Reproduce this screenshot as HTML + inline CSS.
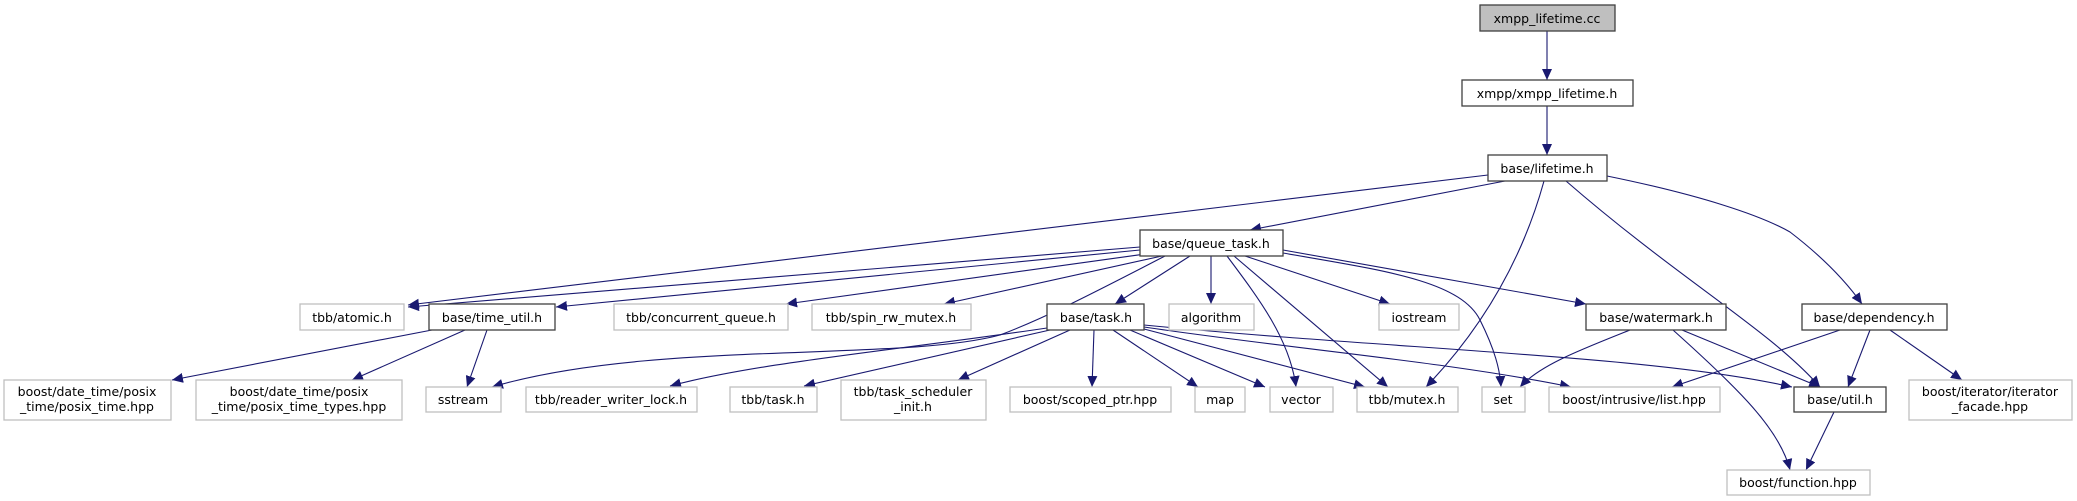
<!DOCTYPE html>
<html><head><meta charset="utf-8"><style>
html,body{margin:0;padding:0;background:#fff;}
svg{display:block;}
text{font-family:"DejaVu Sans","Liberation Sans",sans-serif;font-size:12.5px;fill:#000;text-anchor:middle;}
.g{fill:#fff;stroke:#bfbfbf;stroke-width:1.3;}
.b{fill:#fff;stroke:#404040;stroke-width:1.3;}
.e{fill:none;stroke:#191970;stroke-width:1.1;marker-end:url(#a);}
</style></head><body>
<svg width="2077" height="501" viewBox="0 0 2077 501" xmlns="http://www.w3.org/2000/svg">
<defs><marker id="a" markerUnits="userSpaceOnUse" markerWidth="12" markerHeight="10" refX="11" refY="5" orient="auto"><path d="M0,0 L11,5 L0,10 z" fill="#191970"/></marker></defs>
<!-- edges -->
<path class="e" d="M1547,31 L1547,80"/>
<path class="e" d="M1547,106 L1547,155"/>
<path class="e" d="M1505,181 L1250,230"/>
<path class="e" d="M1488,175 L408,305"/>
<path class="e" d="M1544,181 C1525,250 1490,320 1426,387"/>
<path class="e" d="M1566,181 C1680,280 1770,330 1820,387"/>
<path class="e" d="M1607,176 C1700,195 1760,215 1790,232 C1820,255 1845,280 1862,304"/>
<path class="e" d="M1140,247 L408,307"/>
<path class="e" d="M1140,250 L556,307"/>
<path class="e" d="M1145,254 L786,304"/>
<path class="e" d="M1162,256 L944,304"/>
<path class="e" d="M1190,256 L1115,304"/>
<path class="e" d="M1211,256 L1211,304"/>
<path class="e" d="M1245,256 L1390,304"/>
<path class="e" d="M1283,250 L1586,304"/>
<path class="e" d="M1165,256 C1080,300 1040,320 1000,335 C900,362 650,340 492,387"/>
<path class="e" d="M1227,256 C1260,300 1290,340 1296,387"/>
<path class="e" d="M1234,256 L1388,387"/>
<path class="e" d="M1283,253 C1380,270 1460,280 1480,320 C1495,350 1500,370 1501,387"/>
<path class="e" d="M432,330 L172,380"/>
<path class="e" d="M465,330 L352,380"/>
<path class="e" d="M487,330 L467,387"/>
<path class="e" d="M1047,328 C900,350 760,362 670,386"/>
<path class="e" d="M1050,330 L804,386"/>
<path class="e" d="M1070,330 L958,380"/>
<path class="e" d="M1094,330 L1092,387"/>
<path class="e" d="M1113,330 L1198,387"/>
<path class="e" d="M1130,330 L1265,387"/>
<path class="e" d="M1144,329 L1365,387"/>
<path class="e" d="M1144,327 C1300,350 1450,362 1571,387"/>
<path class="e" d="M1144,325 C1400,350 1650,355 1792,387"/>
<path class="e" d="M1630,330 C1580,350 1540,365 1520,387"/>
<path class="e" d="M1682,330 L1820,387"/>
<path class="e" d="M1673,330 C1740,390 1780,430 1790,470"/>
<path class="e" d="M1840,330 L1672,387"/>
<path class="e" d="M1870,330 L1848,387"/>
<path class="e" d="M1890,330 L1962,380"/>
<path class="e" d="M1834,412 L1806,470"/>
<!-- nodes -->
<rect x="1480" y="5" width="135" height="26" fill="#bfbfbf" stroke="#404040" stroke-width="1.3"/><text x="1547" y="23">xmpp_lifetime.cc</text>
<rect class="b" x="1462" y="80" width="171" height="26"/><text x="1547" y="98">xmpp/xmpp_lifetime.h</text>
<rect class="b" x="1488" y="155" width="119" height="26"/><text x="1547" y="173">base/lifetime.h</text>
<rect class="b" x="1140" y="230" width="143" height="26"/><text x="1211" y="248">base/queue_task.h</text>

<rect class="g" x="300" y="304" width="104" height="26"/><text x="352" y="322">tbb/atomic.h</text>
<rect class="b" x="429" y="304" width="126" height="26"/><text x="492" y="322">base/time_util.h</text>
<rect class="g" x="614" y="304" width="174" height="26"/><text x="701" y="322">tbb/concurrent_queue.h</text>
<rect class="g" x="812" y="304" width="159" height="26"/><text x="891" y="322">tbb/spin_rw_mutex.h</text>
<rect class="b" x="1047" y="304" width="97" height="26"/><text x="1096" y="322">base/task.h</text>
<rect class="g" x="1169" y="304" width="85" height="26"/><text x="1211" y="322">algorithm</text>
<rect class="g" x="1379" y="304" width="80" height="26"/><text x="1419" y="322">iostream</text>
<rect class="b" x="1586" y="304" width="140" height="26"/><text x="1656" y="322">base/watermark.h</text>
<rect class="b" x="1802" y="304" width="145" height="26"/><text x="1874" y="322">base/dependency.h</text>

<rect class="g" x="4" y="380" width="167" height="40"/><text x="87" y="396">boost/date_time/posix</text><text x="87" y="411">_time/posix_time.hpp</text>
<rect class="g" x="196" y="380" width="206" height="40"/><text x="299" y="396">boost/date_time/posix</text><text x="299" y="411">_time/posix_time_types.hpp</text>
<rect class="g" x="426" y="387" width="75" height="25"/><text x="463" y="404">sstream</text>
<rect class="g" x="526" y="387" width="171" height="25"/><text x="611" y="404">tbb/reader_writer_lock.h</text>
<rect class="g" x="730" y="387" width="87" height="25"/><text x="773" y="404">tbb/task.h</text>
<rect class="g" x="841" y="380" width="145" height="40"/><text x="913" y="396">tbb/task_scheduler</text><text x="913" y="411">_init.h</text>
<rect class="g" x="1010" y="387" width="161" height="25"/><text x="1090" y="404">boost/scoped_ptr.hpp</text>
<rect class="g" x="1195" y="387" width="50" height="25"/><text x="1220" y="404">map</text>
<rect class="g" x="1270" y="387" width="63" height="25"/><text x="1301" y="404">vector</text>
<rect class="g" x="1357" y="387" width="101" height="25"/><text x="1407" y="404">tbb/mutex.h</text>
<rect class="g" x="1482" y="387" width="43" height="25"/><text x="1503" y="404">set</text>
<rect class="g" x="1549" y="387" width="171" height="25"/><text x="1634" y="404">boost/intrusive/list.hpp</text>
<rect class="b" x="1794" y="387" width="92" height="25"/><text x="1840" y="404">base/util.h</text>
<rect class="g" x="1909" y="380" width="163" height="40"/><text x="1990" y="396">boost/iterator/iterator</text><text x="1990" y="411">_facade.hpp</text>
<rect class="g" x="1727" y="470" width="143" height="25"/><text x="1798" y="487">boost/function.hpp</text>
</svg>
</body></html>
